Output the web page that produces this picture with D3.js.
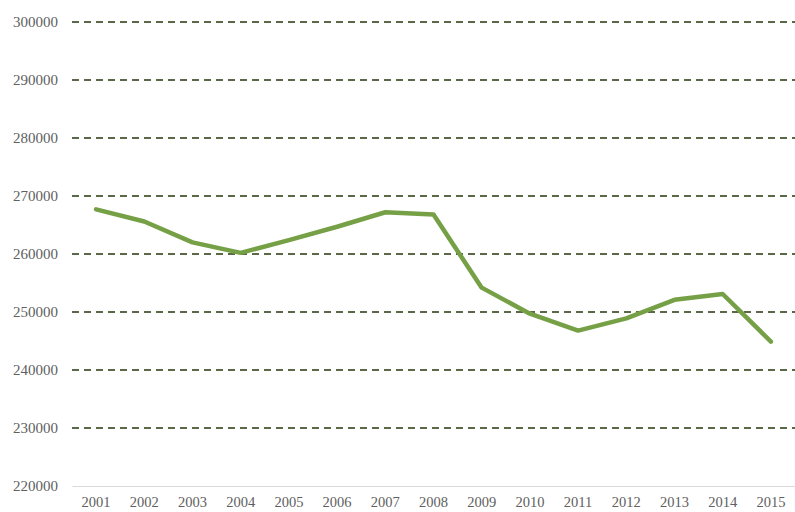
<!DOCTYPE html>
<html>
<head>
<meta charset="utf-8">
<script src="https://cdn.jsdelivr.net/npm/d3@7"></script>
<style>
  body { margin: 0; background: #fff; }
  text { font-family: "Liberation Serif", "DejaVu Serif", serif; fill: #606060; }
</style>
</head>
<body>
<svg id="chart" width="795" height="512"></svg>
<script>
// data
const years = ["2001", "2002", "2003", "2004", "2005", "2006", "2007", "2008",
  "2009", "2010", "2011", "2012", "2013", "2014", "2015"];
const values = [267700, 265600, 262000, 260200, 262400, 264700, 267200, 266800,
  254200, 249700, 246800, 248900, 252100, 253100, 244900];
const yTicks = [220000, 230000, 240000, 250000, 260000, 270000, 280000, 290000, 300000];

const svg = d3.select("#chart");
const plotLeft = 72, plotRight = 795, plotTop = 22, plotBottom = 486;

const x = d3.scaleBand().domain(years).range([plotLeft, plotRight]);
const y = d3.scaleLinear().domain([220000, 300000]).range([plotBottom, plotTop]);

// dashed gridlines
svg.append("g")
  .selectAll("line")
  .data(yTicks.filter(d => d > 220000))
  .enter().append("line")
  .attr("x1", plotLeft)
  .attr("x2", plotRight)
  .attr("y1", d => y(d))
  .attr("y2", d => y(d))
  .attr("stroke", "#5b6848")
  .attr("stroke-width", 1.8)
  .attr("stroke-dasharray", "7,5");

// y labels
svg.append("g")
  .selectAll("text")
  .data(yTicks)
  .enter().append("text")
  .attr("x", 58)
  .attr("y", d => y(d))
  .attr("dy", "0.35em")
  .attr("text-anchor", "end")
  .style("font-size", "15px")
  .text(d => d);

// x axis
const xAxis = svg.append("g")
  .attr("transform", `translate(0,${plotBottom})`)
  .call(d3.axisBottom(x).tickSize(0).tickPadding(11));
xAxis.select(".domain").attr("stroke", "#d9d9d9").attr("stroke-width", 1.2);
xAxis.selectAll("text")
  .style("font-size", "14.5px")
  .style("font-family", "Liberation Serif, DejaVu Serif, serif")
  .attr("fill", "#606060");

// the series
const line = d3.line()
  .x((d, i) => x(years[i]) + x.bandwidth() / 2)
  .y(d => y(d));

svg.append("path")
  .datum(values)
  .attr("fill", "none")
  .attr("stroke", "#76a046")
  .attr("stroke-width", 4.5)
  .attr("stroke-linejoin", "round")
  .attr("stroke-linecap", "round")
  .attr("d", line);
</script>
</body>
</html>
